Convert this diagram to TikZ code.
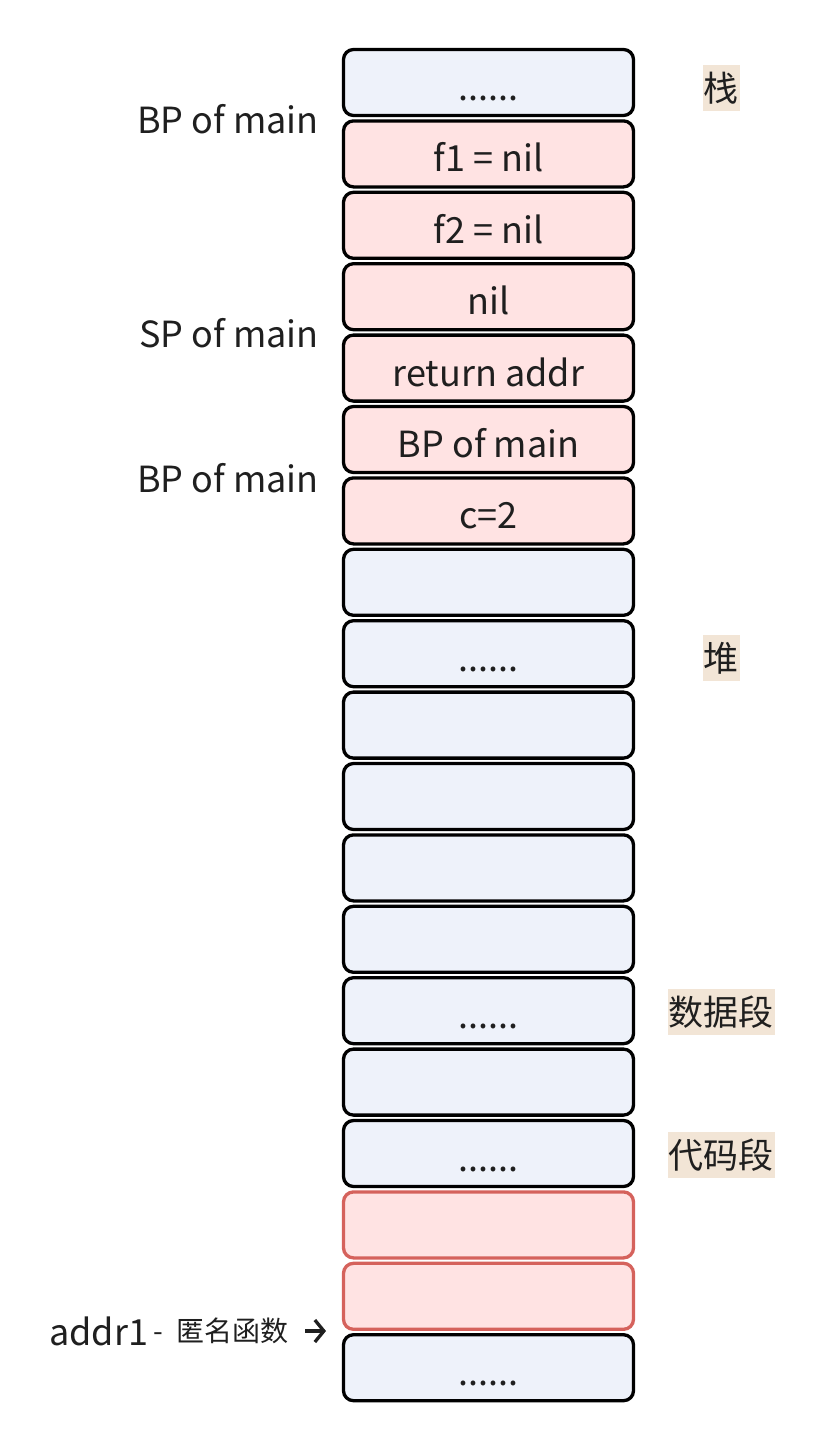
\documentclass[tikz,border=0pt]{standalone}
\usepackage{fontspec}
\setmainfont{Noto Sans CJK SC}
\usetikzlibrary{arrows.meta}
\definecolor{cellblue}{HTML}{EEF2FA}
\definecolor{cellpink}{HTML}{FFE3E3}
\definecolor{cellred}{HTML}{D5625C}
\definecolor{tagbg}{HTML}{F2E5D6}
\definecolor{ink}{HTML}{1F1F1F}
\begin{document}
\begin{tikzpicture}[x=1pt,y=-1pt,
  cell/.style={draw=black, line width=3.3pt, rounded corners=10pt, minimum width=290pt,
    minimum height=66pt, inner ysep=0pt, text height=36pt, text depth=0pt,
    font=\fontsize{36}{40}\selectfont, text=ink},
  blue/.style={cell, fill=cellblue},
  pink/.style={cell, fill=cellpink},
  redc/.style={cell, fill=cellpink, draw=cellred},
  side/.style={font=\fontsize{36}{40}\selectfont, text=ink, inner sep=0pt},
  tag/.style={font=\fontsize{35}{40}\selectfont, text=ink, fill=tagbg, inner xsep=1pt,
    inner ysep=0pt, minimum height=46pt},
  small/.style={font=\fontsize{28}{32}\selectfont, text=ink, inner sep=0pt}
]
\useasboundingbox (0,0) rectangle (824,1452);
\def\cx{488.5}
\node[blue] (c1)  at (\cx, 82.5) {......};
\node[pink] (c2)  at (\cx, 153.9) {f1 = nil};
\node[pink] (c3)  at (\cx, 225.3) {f2 = nil};
\node[pink] (c4)  at (\cx, 296.7) {nil};
\node[pink] (c5)  at (\cx, 368.1) {return addr};
\node[pink] (c6)  at (\cx, 439.5) {BP of main};
\node[pink] (c7)  at (\cx, 510.9) {c=2};
\node[blue] (c8)  at (\cx, 582.3) {};
\node[blue] (c9)  at (\cx, 653.7) {......};
\node[blue] (c10) at (\cx, 725.1) {};
\node[blue] (c11) at (\cx, 796.5) {};
\node[blue] (c12) at (\cx, 867.9) {};
\node[blue] (c13) at (\cx, 939.3) {};
\node[blue] (c14) at (\cx, 1010.7) {......};
\node[blue] (c15) at (\cx, 1082.1) {};
\node[blue] (c16) at (\cx, 1153.5) {......};
\node[redc] (c17) at (\cx, 1224.9) {};
\node[redc] (c18) at (\cx, 1296.3) {};
\node[blue] (c19) at (\cx, 1367.7) {......};

\node[side, anchor=base east] (l1) at (319,133) {BP of main};
\node[side, anchor=base east] (l2) at (319,347) {SP of main};
\node[side, anchor=base east] (l3) at (319,492) {BP of main};

\node[tag] (t1) at (721,88) {栈};
\node[tag] (t2) at (721,658) {堆};
\node[tag] (t3) at (721,1012) {数据段};
\node[tag] (t4) at (721,1155) {代码段};

\node[side, anchor=base west] (a1) at (49,1345) {addr1};
\node[small, anchor=base west] (a2) at (153,1341) {-\hspace{14pt}匿名函数};
\coordinate (ps) at (305,1331);
\coordinate (pe) at (326,1331);
\draw[line width=3.3pt, ink, -{Straight Barb[length=9pt,width=22pt,line width=3.3pt]}] (ps) -- (pe);
\end{tikzpicture}
\end{document}
